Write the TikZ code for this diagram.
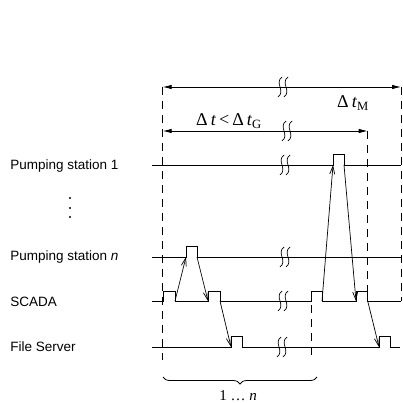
\documentclass[tikz,border=0pt]{standalone}
\usepackage{fontspec}
\setmainfont{Liberation Serif}
\setsansfont{Liberation Sans}
\usetikzlibrary{arrows.meta,decorations.pathreplacing}
\begin{document}
\begin{tikzpicture}[x=1pt,y=-1pt,line width=0.8pt,
  vdash/.style={dash pattern=on 8pt off 6pt,line width=0.8pt},
  lab/.style={font=\sffamily\fontsize{13.5}{15}\selectfont,anchor=west,inner sep=0pt},
  msg/.style={-{Straight Barb[length=8pt,width=5pt]},line width=0.7pt},
  spanarrow/.style={{Latex[length=9pt,width=4.5pt]}-{Latex[length=9pt,width=4.5pt]},line width=0.8pt},
  mathlab/.style={font=\fontsize{18}{20}\selectfont,inner sep=0pt},
  brk/.pic={
    \foreach \d in {-3,3}{
      \draw[line width=0.7pt] (\d+2,-10) .. controls (\d-6,-4) and (\d+6,4) .. (\d-2,10);
    }
  }]
\useasboundingbox (0,0) rectangle (403,403);

% labels
\node[lab] (ps1) at (10,166) {Pumping station 1};
\node[lab] (psn) at (10,257) {Pumping station \textit{n}};
\node[lab] (scada) at (10,302) {SCADA};
\node[lab] (fs) at (10,347) {File Server};
\foreach \yy in {198,208,217} \fill (70,\yy) circle (1.2pt);

% pulse corner coordinates
\coordinate (s1b) at (175,301);
\coordinate (s2a) at (208,301);
\coordinate (s2b) at (220,301);
\coordinate (s3b) at (322,301);
\coordinate (s4a) at (356,301);
\coordinate (s4b) at (367.7,301);
\coordinate (pna) at (186,257);
\coordinate (pnb) at (197,257);
\coordinate (p1a) at (333,165);
\coordinate (p1b) at (344,165);
\coordinate (f1a) at (231,347);
\coordinate (f2a) at (379,347);

% signal lines
\draw (152,165) -- (p1a) -- (333,154) -- (344,154) -- (p1b) -- (401,165);
\draw (152,257) -- (pna) -- (186,246) -- (197,246) -- (pnb) -- (401,257);
\draw (152,301) -- (163,301) -- (163,291) -- (175,291) -- (s1b) -- (s2a) -- (208,291) -- (220,291) -- (s2b)
  -- (311,301) -- (311,291) -- (322,291) -- (s3b) -- (s4a) -- (356,291) -- (367.7,291) -- (s4b) -- (401,301);
\draw (152,347) -- (f1a) -- (231,336) -- (242,336) -- (242,347) -- (f2a) -- (379,336) -- (390,336) -- (390,347) -- (400,347);

% dashed guides
\draw[vdash] (162.7,87) -- (162.7,360);
\draw[vdash] (311,291) -- (311,360);
\draw[vdash] (367.7,131) -- (367.7,291);
\draw[vdash] (401,87) -- (401,301);

% message arrows
\draw[msg] (s1b) -- (pna);
\draw[msg] (pnb) -- (s2a);
\draw[msg] (s2b) -- (f1a);
\draw[msg] (s3b) -- (p1a);
\draw[msg] (p1b) -- (s4a);
\draw[msg] (s4b) -- (f2a);

% span arrows
\coordinate (tl) at (162.7,87);
\coordinate (tr) at (401,87);
\coordinate (ml) at (162.7,131);
\coordinate (mr) at (367.7,131);
\draw[spanarrow] (tl) -- (tr);
\draw[spanarrow] (ml) -- (mr);
\node[mathlab] (dtm) at (353,103) {Δ\,\textit{t}\textsubscript{M}};
\node[mathlab] (dtg) at (229,121) {Δ\,\textit{t}\,<\,Δ\,\textit{t}\textsubscript{G}};

% breaks
\pic at (283,87) {brk};
\pic at (287,131) {brk};
\pic at (285,165) {brk};
\pic at (285,257) {brk};
\pic at (283,301) {brk};
\pic at (282,347) {brk};

% brace
\draw[decorate,decoration={brace,mirror,amplitude=7pt},line width=0.8pt] (163,377) -- (317,377);
\node[font=\fontsize{15}{17}\selectfont,inner sep=0pt] (rng) at (238,396) {1 … \textit{n}};
\end{tikzpicture}
\end{document}
